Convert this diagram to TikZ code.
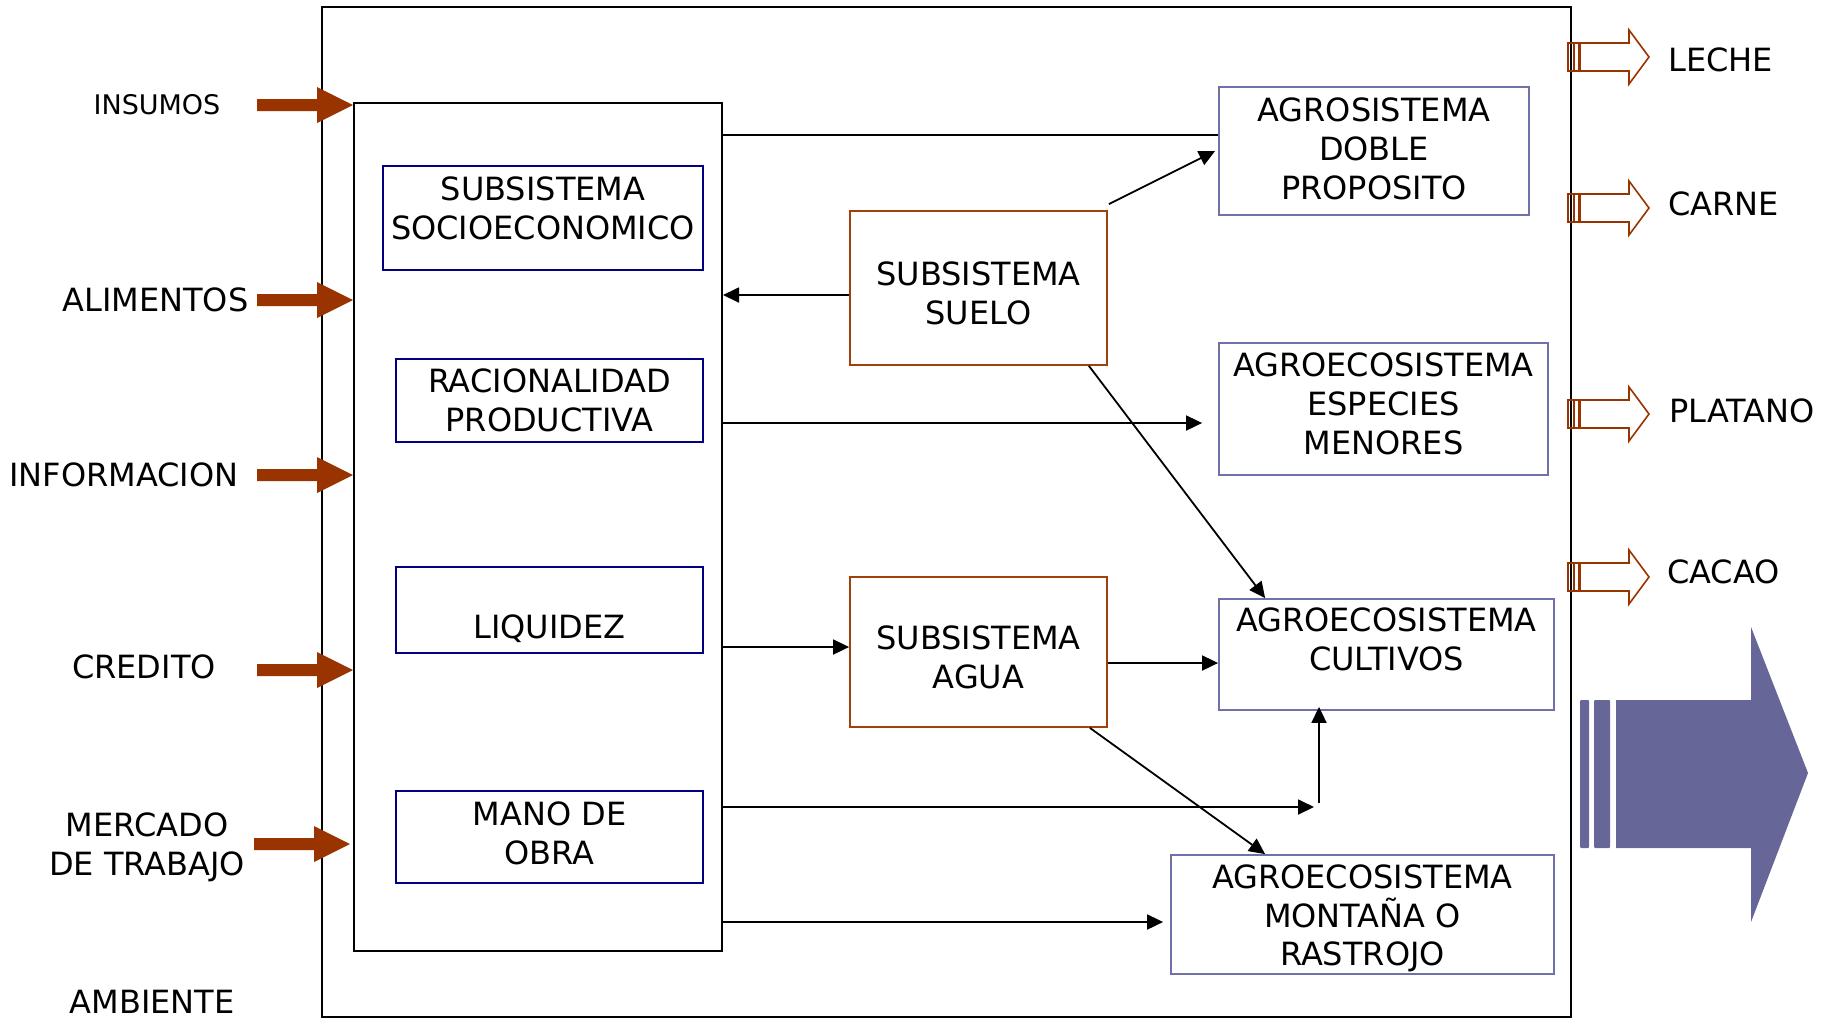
\documentclass[tikz,border=0pt]{standalone}
\usepackage{fontspec}
\setmainfont{DejaVu Sans}
\usetikzlibrary{arrows.meta,calc}
\definecolor{brn}{HTML}{993300}
\definecolor{navyb}{HTML}{000080}
\definecolor{slate}{HTML}{7070AA}
\definecolor{bigc}{HTML}{666699}
\definecolor{soil}{HTML}{A0400A}
\begin{document}
\begin{tikzpicture}[x=1pt,y=-1pt,
  every node/.style={font=\fontsize{32}{38.7}\selectfont, inner sep=0pt, align=center},
  frame/.style={draw, line width=2pt},
  navybox/.style={draw=navyb, line width=1.8pt},
  soilbox/.style={draw=soil, line width=1.8pt},
  agrobox/.style={draw=slate, line width=1.8pt},
  conn/.style={line width=1.8pt},
  arr/.style={conn, -{Triangle[length=16pt,width=15pt]}},
  inarrow/.pic={\fill[brn] (-96,-6) -- (-36,-6) -- (-36,-18) -- (0,0) -- (-36,18) -- (-36,6) -- (-96,6) -- cycle;},
  outarrow/.pic={\draw[brn, line width=1.6pt] (0,-14) rectangle (6,14) (6,-14) rectangle (11,14);
                 \draw[brn, line width=1.6pt, line join=miter] (12,-14) -- (61,-14) -- (61,-27) -- (81,0) -- (61,27) -- (61,14) -- (12,14) -- cycle;}
]
\useasboundingbox (0,0) rectangle (1838,1021);

% frames
\node[frame, minimum width=1249, minimum height=1010] (amb) at (946.5,512) {};
\node[frame, minimum width=368, minimum height=848] (sys) at (538,527) {};

% left subsystems
\node[navybox, minimum width=320, minimum height=104,
  label={[name=socio-t, yshift=10pt]center:{SUBSISTEMA\\SOCIOECONOMICO}}] (socio) at (543,218) {};
\node[navybox, minimum width=307, minimum height=83,
  label={[name=racio-t]center:{RACIONALIDAD\\PRODUCTIVA}}] (racio) at (549.5,400.5) {};
\node[navybox, minimum width=307, minimum height=86,
  label={[name=liq-t, yshift=-19pt]center:{LIQUIDEZ}}] (liq) at (549.5,610) {};
\node[navybox, minimum width=307, minimum height=92,
  label={[name=mano-t, yshift=4pt]center:{MANO DE\\OBRA}}] (mano) at (549.5,837) {};

% middle
\node[soilbox, minimum width=257, minimum height=154,
  label={[name=suelo-t, yshift=-5pt]center:{SUBSISTEMA\\SUELO}}] (suelo) at (978.5,288) {};
\node[soilbox, minimum width=257, minimum height=150,
  label={[name=agua-t, yshift=-5pt]center:{SUBSISTEMA\\AGUA}}] (agua) at (978.5,652) {};

% right
\node[agrobox, minimum width=310, minimum height=128,
  label={[name=doble-t, yshift=2pt]center:{AGROSISTEMA\\DOBLE\\PROPOSITO}}] (doble) at (1374,151) {};
\node[agrobox, minimum width=329, minimum height=132,
  label={[name=menores-t, yshift=5pt]center:{AGROECOSISTEMA\\ESPECIES\\MENORES}}] (menores) at (1383.5,409) {};
\node[agrobox, minimum width=335, minimum height=111,
  label={[name=cultivos-t, yshift=15pt]center:{AGROECOSISTEMA\\CULTIVOS}}] (cultivos) at (1386.5,654.5) {};
\node[agrobox, minimum width=383, minimum height=119,
  label={[name=montana-t, yshift=-4pt]center:{AGROECOSISTEMA\\MONTAÑA O\\RASTROJO}}] (montana) at (1362.5,914.5) {};

% left labels
\node[font=\fontsize{27}{32}\selectfont] (insumos) at (157,105) {INSUMOS};
\node (alimentos) at (155.5,300) {ALIMENTOS};
\node (informacion) at (124,475) {INFORMACION};
\node (credito) at (144,667) {CREDITO};
\node (mercado) at (147,847) {MERCADO\\DE TRABAJO};
\node (ambiente) at (152,1002) {AMBIENTE};

% input arrows
\coordinate (yi1) at (0,105);
\coordinate (yi2) at (0,300);
\coordinate (yi3) at (0,475);
\coordinate (yi4) at (0,670);
\coordinate (yi5) at (0,844);
\path (sys.west |- yi1) pic {inarrow};
\path (sys.west |- yi2) pic {inarrow};
\path (sys.west |- yi3) pic {inarrow};
\path (sys.west |- yi4) pic {inarrow};
\path ([xshift=-3pt]sys.west |- yi5) pic {inarrow};

% outputs
\node[anchor=west] (leche) at (1668,60) {LECHE};
\node[anchor=west] (carne) at (1668,204) {CARNE};
\node[anchor=west] (platano) at (1669,411) {PLATANO};
\node[anchor=west] (cacao) at (1667,572) {CACAO};
\coordinate (yo1) at (0,57);
\coordinate (yo2) at (0,208);
\coordinate (yo3) at (0,414);
\coordinate (yo4) at (0,577);
\path (amb.east |- yo1) ++(-4,0) pic {outarrow};
\path (amb.east |- yo2) ++(-4,0) pic {outarrow};
\path (amb.east |- yo3) ++(-4,0) pic {outarrow};
\path (amb.east |- yo4) ++(-4,0) pic {outarrow};

% big arrow
\fill[bigc, rounded corners=1pt] (1580,700) rectangle (1589,848);
\fill[bigc, rounded corners=1pt] (1594,700) rectangle (1610,848);
\fill[bigc] (1616,700) -- (1751,700) -- (1751,627) -- (1808,773) -- (1751,922) -- (1751,848) -- (1616,848) -- cycle;

% connectors
\coordinate (y1) at (0,135);
\coordinate (ys) at (0,295);
\coordinate (yr) at (0,423);
\coordinate (ya) at (0,647);
\coordinate (yc) at (0,663);
\coordinate (ym) at (0,807);
\coordinate (yo) at (0,922);
\coordinate (vcorner) at (1314,807);
\coordinate (vbase) at (1319,803);

\draw[conn] (sys.east |- y1) -- (doble.west |- y1);
\draw[arr] ([shift={(1,-6)}]suelo.north east) -- ([xshift=-3pt]doble.west);
\draw[arr] (suelo.west |- ys) -- (sys.east |- ys);
\draw[arr] (sys.east |- yr) -- ([xshift=-16pt]menores.west |- yr);
\draw[arr] ([xshift=-19pt]suelo.south east) -- ([xshift=47pt]cultivos.north west);
\draw[arr] (sys.east |- ya) -- (agua.west |- ya);
\draw[arr] (agua.east |- yc) -- (cultivos.west |- yc);
\draw[arr] (sys.east |- ym) -- (vcorner);
\draw[arr] (vbase) -- ([yshift=4pt]vbase |- cultivos.south);
\draw[arr] ([xshift=-18pt]agua.south east) -- ([xshift=95pt]montana.north west);
\draw[arr] (sys.east |- yo) -- ([xshift=-7pt]montana.west |- yo);
\end{tikzpicture}
\end{document}
